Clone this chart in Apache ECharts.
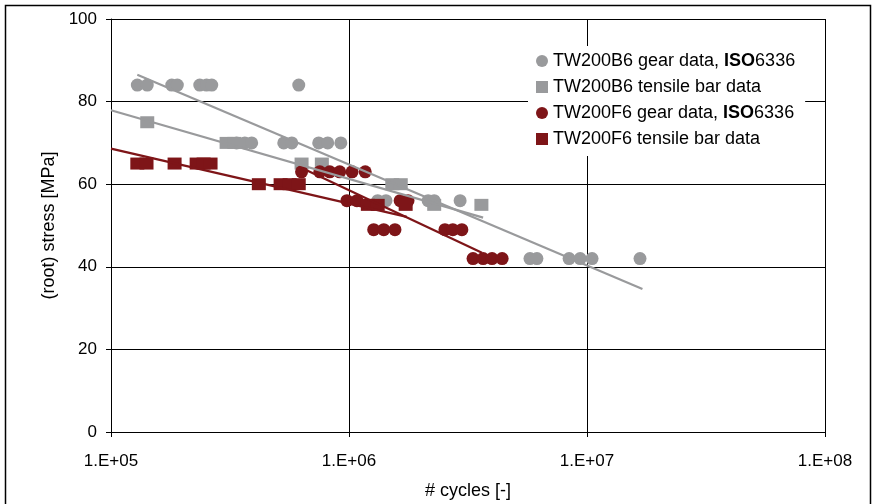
<!DOCTYPE html>
<html><head><meta charset="utf-8">
<script src="https://cdn.jsdelivr.net/npm/echarts@6/dist/echarts.min.js"></script>
<style>html,body{margin:0;padding:0;background:#fff}#c{width:878px;height:504px}</style>
</head><body><div id="c"></div>
<script>
// ---- data ----
const seriesNames = ['TW200B6 gear data, ISO 6336', 'TW200B6 tensile bar data', 'TW200F6 gear data, ISO 6336', 'TW200F6 tensile bar data'];
const xTickLabels = ['1.E+05', '1.E+06', '1.E+07', '1.E+08'];
const yTicks = [0, 20, 40, 60, 80, 100];

const grayGearX = [1.29e5, 1.42e5, 1.80e5, 1.90e5, 2.36e5, 2.52e5, 2.65e5, 6.15e5,
                   3.37e5, 3.65e5, 3.90e5, 5.32e5, 5.75e5, 7.46e5, 8.14e5, 9.24e5,
                   1.32e6, 1.43e6, 2.15e6, 2.28e6, 2.93e6,
                   5.76e6, 6.16e6, 8.41e6, 9.36e6, 1.05e7, 1.67e7];
const grayGearY = [84, 84, 84, 84, 84, 84, 84, 84,
                   70, 70, 70, 70, 70, 70, 70, 70,
                   56, 56, 56, 56, 56,
                   42, 42, 42, 42, 42, 42];

const grayTensileX = [1.42e5, 3.06e5, 3.30e5, 6.32e5, 7.69e5, 1.52e6, 1.65e6, 2.28e6, 3.60e6];
const grayTensileY = [75, 70, 70, 65, 65, 60, 60, 55, 55];

const redGearX = [6.32e5, 7.54e5, 8.30e5, 9.14e5, 1.03e6, 1.17e6,
                  9.80e5, 1.08e6, 1.64e6, 1.77e6,
                  1.27e6, 1.40e6, 1.56e6, 2.53e6, 2.73e6, 2.98e6,
                  3.32e6, 3.66e6, 3.99e6, 4.40e6];
const redGearY = [63, 63, 63, 63, 63, 63,
                  56, 56, 56, 56,
                  49, 49, 49, 49, 49, 49,
                  42, 42, 42, 42];

const redTensileX = [1.29e5, 1.41e5, 1.85e5, 2.29e5, 2.45e5, 2.62e5,
                     4.18e5, 5.16e5, 5.63e5, 6.15e5,
                     1.20e6, 1.32e6, 1.73e6];
const redTensileY = [65, 65, 65, 65, 65, 65, 60, 60, 60, 60, 55, 55, 55];

// trend lines (endpoints)
const grayGearTrendX = [1.29e5, 1.71e7];
const grayGearTrendY = [86.5, 34.6];
const grayTensileTrendX = [1.0e5, 3.66e6];
const grayTensileTrendY = [77.9, 51.9];
const redGearTrendX = [6.3e5, 3.62e6];
const redGearTrendY = [64.0, 43.4];
const redTensileTrendX = [1.0e5, 1.75e6];
const redTensileTrendY = [68.6, 52.1];

// ---- styles ----
const GRAY = '#999a9c';
const RED = '#7e1518';
const FONT = 'Liberation Sans, Arial, sans-serif';

function zip(xs, ys) { return xs.map((x, i) => [x, ys[i]]); }

const chart = echarts.init(document.getElementById('c'), null, { renderer: 'canvas' });

function scatter(name, xs, ys, color, symbol, size) {
  return {
    name, type: 'scatter', data: zip(xs, ys), symbol, symbolSize: size,
    itemStyle: { color, opacity: 1 }, z: 3, silent: true
  };
}
function trend(xs, ys, color) {
  return {
    type: 'line', data: zip(xs, ys), symbol: 'none', z: 5, silent: true,
    lineStyle: { color, width: 2.2 }, animation: false
  };
}

chart.setOption({
  animation: false,
  backgroundColor: '#fff',
  textStyle: { fontFamily: FONT },
  grid: { left: 111, right: 53, top: 19, bottom: 72, containLabel: false, outerBoundsMode: 'none' },
  graphic: [{
    type: 'rect', shape: { x: 5.5, y: 5.5, width: 865, height: 520 },
    style: { fill: 'none', stroke: '#000', lineWidth: 1.5 }, z: 100, silent: true
  }],
  legend: {
    data: seriesNames,
    orient: 'vertical', left: 528, top: 46,
    backgroundColor: '#fff', padding: [6, 10, 8, 8],
    itemWidth: 12, itemHeight: 12, itemGap: 8,
    textStyle: { fontSize: 18, color: '#000', fontFamily: FONT,
      rich: { b: { fontSize: 18, fontWeight: 'bold', fontFamily: FONT, color: '#000' } } },
    formatter: n => n.replace('ISO ', '{b|ISO}'),
    z: 10
  },
  xAxis: {
    type: 'log', logBase: 10, min: 1e5, max: 1e8,
    name: '# cycles [-]', nameLocation: 'middle', nameGap: 50,
    nameTextStyle: { fontSize: 18, color: '#000', fontFamily: FONT },
    axisLine: { show: true, onZero: false, lineStyle: { color: '#000', width: 1 } },
    axisTick: { show: true, inside: false, length: 5, lineStyle: { color: '#000' } },
    minorTick: { show: false },
    splitLine: { show: true, lineStyle: { color: '#000', width: 1 } },
    axisLabel: {
      fontSize: 17, color: '#000', margin: 21, fontFamily: FONT,
      formatter: v => xTickLabels[Math.round(Math.log10(v)) - 5]
    }
  },
  yAxis: {
    type: 'value', min: yTicks[0], max: yTicks[yTicks.length - 1], interval: 20,
    name: '(root) stress [MPa]', nameLocation: 'middle', nameGap: 53, nameRotate: 90,
    nameTextStyle: { fontSize: 18, color: '#000', fontFamily: FONT },
    axisLine: { show: true, lineStyle: { color: '#000', width: 1 } },
    axisTick: { show: true, inside: false, length: 5, lineStyle: { color: '#000' } },
    splitLine: { show: true, lineStyle: { color: '#000', width: 1 } },
    axisLabel: { fontSize: 17, color: '#000', margin: 14, fontFamily: FONT }
  },
  series: [
    scatter(seriesNames[0], grayGearX, grayGearY, GRAY, 'circle', 13),
    scatter(seriesNames[1], grayTensileX, grayTensileY, GRAY, 'rect', [14, 12]),
    scatter(seriesNames[2], redGearX, redGearY, RED, 'circle', 13),
    scatter(seriesNames[3], redTensileX, redTensileY, RED, 'rect', [14, 12]),
    trend(grayGearTrendX, grayGearTrendY, GRAY),
    trend(grayTensileTrendX, grayTensileTrendY, GRAY),
    trend(redGearTrendX, redGearTrendY, RED),
    trend(redTensileTrendX, redTensileTrendY, RED)
  ]
});
</script>
</body></html>
